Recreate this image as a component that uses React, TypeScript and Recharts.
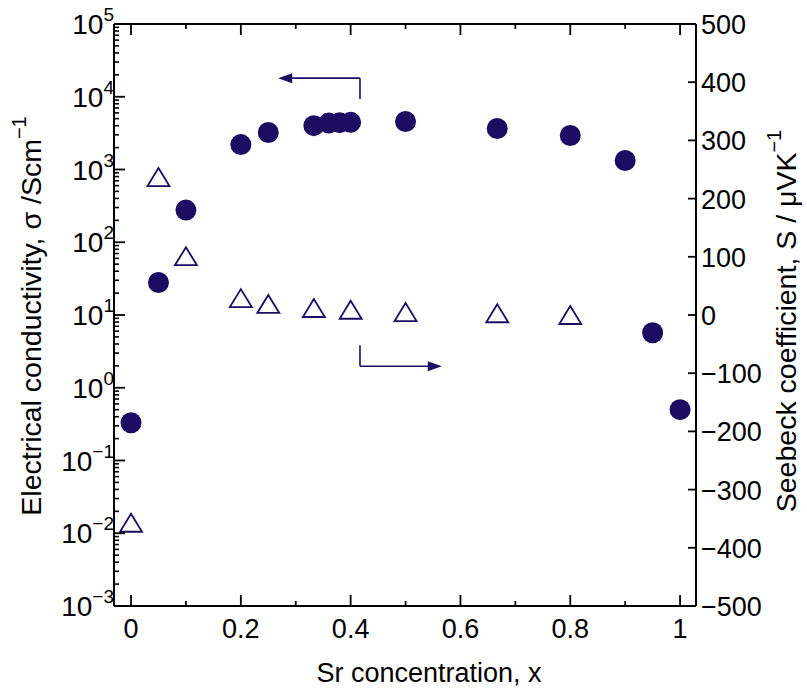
import React from 'react';
import { ScatterChart, Scatter, XAxis, YAxis, ReferenceLine } from 'recharts';

const NAVY = '#1c0c62';
const FONT = '"Liberation Sans", Arial, sans-serif';
const AXIS = { stroke: '#000', strokeWidth: 2 };

// conductivity (filled circles, left log axis)
const sigmaX = [0, 0.05, 0.1, 0.2, 0.25, 0.333, 0.36, 0.38, 0.4, 0.5, 0.667, 0.8, 0.9, 0.95, 1];
const sigmaValues = [0.33, 28, 277, 2200, 3230, 4000, 4350, 4400, 4450, 4570, 3660, 2930, 1330, 5.7, 0.5];

// Seebeck coefficient (open triangles, right axis)
const seebeckX = [0, 0.05, 0.1, 0.2, 0.25, 0.333, 0.4, 0.5, 0.667, 0.8];
const seebeckValues = [-357, 237, 101, 29, 19, 12, 9, 5, 3, 0];

const xMajorTicks = [0, 0.2, 0.4, 0.6, 0.8, 1];
const xMinorTicks = [0.1, 0.3, 0.5, 0.7, 0.9];
const xTickLabels = ['0', '0.2', '0.4', '0.6', '0.8', '1'];
const decadeExponents = [-3, -2, -1, 0, 1, 2, 3, 4, 5];
const minorMultipliers = [2, 3, 4, 5, 6, 7, 8, 9];
const seebeckTicks = [-500, -400, -300, -200, -100, 0, 100, 200, 300, 400, 500];

const sigmaData = sigmaX.map((x, i) => ({ x, sigma: sigmaValues[i] }));
const seebeckData = seebeckX.map((x, i) => ({ x, s: seebeckValues[i] }));

const logTicks: number[] = [];
decadeExponents.forEach((e) => {
  logTicks.push(Math.pow(10, e));
  if (e < 5) minorMultipliers.forEach((m) => logTicks.push(m * Math.pow(10, e)));
});
const xTicks = [...xMajorTicks, ...xMinorTicks].sort((a, b) => a - b);

const minus = (s: string) => s.replace('-', '\u2212');

function BottomTick({ x, y, payload }: any) {
  const idx = xMajorTicks.findIndex((t) => Math.abs(t - payload.value) < 1e-9);
  if (idx < 0) return <line x1={x} y1={y} x2={x} y2={y - 5} stroke="#000" strokeWidth={1.8} />;
  return (
    <g>
      <line x1={x} y1={y} x2={x} y2={y - 11} stroke="#000" strokeWidth={1.8} />
      <text x={x} y={y + 32} textAnchor="middle" fontSize={27} fontFamily={FONT} fill="#000">
        {xTickLabels[idx]}
      </text>
    </g>
  );
}

function TopTick({ x, y, payload }: any) {
  const major = xMajorTicks.some((t) => Math.abs(t - payload.value) < 1e-9);
  return <line x1={x} y1={y} x2={x} y2={y + (major ? 11 : 5)} stroke="#000" strokeWidth={1.8} />;
}

function LogTick({ x, y, payload }: any) {
  const lg = Math.log10(payload.value);
  const exp = Math.round(lg);
  if (Math.abs(lg - exp) > 1e-6) {
    return <line x1={x} y1={y} x2={x + 5} y2={y} stroke="#000" strokeWidth={1.6} />;
  }
  return (
    <g>
      <line x1={x} y1={y} x2={x + 11} y2={y} stroke="#000" strokeWidth={1.8} />
      <text x={x} y={y + 10} textAnchor="end" fontSize={28} fontFamily={FONT} fill="#000">
        <tspan>10</tspan>
        <tspan dy={-13} fontSize={19}>{minus(String(exp))}</tspan>
      </text>
    </g>
  );
}

function RightTick({ x, y, payload }: any) {
  return (
    <g>
      <line x1={x} y1={y} x2={x - 8} y2={y} stroke="#000" strokeWidth={1.8} />
      <text x={x + 5} y={y + 10} textAnchor="start" fontSize={27} fontFamily={FONT} fill="#000">
        {minus(String(payload.value))}
      </text>
    </g>
  );
}

function ArrowSeg({ x1, y1, x2, y2 }: any) {
  const dir = x2 > x1 ? 1 : -1;
  return (
    <g>
      <line x1={x1} y1={y1} x2={x2 - dir * 10} y2={y2} stroke={NAVY} strokeWidth={1.6} />
      <polygon
        points={`${x2},${y2} ${x2 - dir * 14},${y2 - 5} ${x2 - dir * 14},${y2 + 5}`}
        fill={NAVY}
      />
    </g>
  );
}

function PlainSeg({ x1, y1, x2, y2 }: any) {
  return <line x1={x1} y1={y1} x2={x2} y2={y2} stroke={NAVY} strokeWidth={1.6} />;
}

function Circle({ cx, cy }: any) {
  return <circle cx={cx} cy={cy} r={10.5} fill={NAVY} />;
}

function Triangle({ cx, cy }: any) {
  return (
    <polygon
      points={`${cx},${cy - 9} ${cx + 11},${cy + 9} ${cx - 11},${cy + 9}`}
      fill="#fff"
      stroke={NAVY}
      strokeWidth={1.8}
    />
  );
}

export default function App() {
  return (
    <div style={{ position: 'absolute', left: 0, top: 0, width: 807, height: 693, background: '#fff' }}>
      <ScatterChart width={807} height={693} margin={{ top: 20, right: 31, bottom: 37, left: 34 }}>
        <XAxis
          xAxisId="bottom"
          dataKey="x"
          type="number"
          domain={[-0.031, 1.029]}
          ticks={xTicks}
          allowDataOverflow
          height={50}
          tickSize={0}
          tickMargin={0}
          tickLine={false}
          axisLine={AXIS}
          tick={<BottomTick />}
          interval={0}
          label={{
            value: 'Sr concentration, x',
            content: () => (
              <text x={429} y={682} textAnchor="middle" fontSize={27} fontFamily={FONT} fill="#000">
                Sr concentration, x
              </text>
            ),
          }}
        />
        <XAxis
          xAxisId="top"
          orientation="top"
          dataKey="x"
          type="number"
          domain={[-0.031, 1.029]}
          ticks={xTicks}
          allowDataOverflow
          height={4}
          tickSize={0}
          tickMargin={0}
          tickLine={false}
          axisLine={AXIS}
          tick={<TopTick />}
          interval={0}
        />
        <YAxis
          yAxisId="left"
          dataKey="sigma"
          type="number"
          scale="log"
          domain={[1e-3, 1e5]}
          ticks={logTicks}
          allowDataOverflow
          width={80}
          tickSize={0}
          tickMargin={0}
          tickLine={false}
          axisLine={AXIS}
          tick={<LogTick />}
          interval={0}
          label={{
            value: 'sigma',
            content: () => (
              <text
                x={31}
                y={316}
                transform="rotate(-90 31 316)"
                textAnchor="middle"
                dominantBaseline="central"
                fontSize={28.5}
                fontFamily={FONT}
                fill="#000"
              >
                Electrical conductivity, σ /Scm
                <tspan dy={-12} fontSize={20}>{'\u22121'}</tspan>
              </text>
            ),
          }}
        />
        <YAxis
          yAxisId="right"
          orientation="right"
          dataKey="s"
          type="number"
          domain={[-500, 500]}
          ticks={seebeckTicks}
          allowDataOverflow
          width={80}
          tickSize={0}
          tickMargin={0}
          tickLine={false}
          axisLine={AXIS}
          tick={<RightTick />}
          interval={0}
          label={{
            value: 'S',
            content: () => (
              <text
                x={786}
                y={321}
                transform="rotate(-90 786 321)"
                textAnchor="middle"
                dominantBaseline="central"
                fontSize={28.5}
                fontFamily={FONT}
                fill="#000"
              >
                Seebeck coefficient, S / μVK
                <tspan dy={-12} fontSize={20}>{'\u22121'}</tspan>
              </text>
            ),
          }}
        />
        <ReferenceLine
          xAxisId="bottom"
          yAxisId="right"
          segment={[{ x: 0.417, y: 371 }, { x: 0.417, y: 407 }]}
          shape={<PlainSeg />}
        />
        <ReferenceLine
          xAxisId="bottom"
          yAxisId="right"
          segment={[{ x: 0.417, y: 407 }, { x: 0.268, y: 407 }]}
          shape={<ArrowSeg />}
        />
        <ReferenceLine
          xAxisId="bottom"
          yAxisId="right"
          segment={[{ x: 0.417, y: -52 }, { x: 0.417, y: -88 }]}
          shape={<PlainSeg />}
        />
        <ReferenceLine
          xAxisId="bottom"
          yAxisId="right"
          segment={[{ x: 0.417, y: -88 }, { x: 0.566, y: -88 }]}
          shape={<ArrowSeg />}
        />
        <Scatter
          data={seebeckData}
          xAxisId="bottom"
          yAxisId="right"
          dataKey="s"
          shape={<Triangle />}
          isAnimationActive={false}
        />
        <Scatter
          data={sigmaData}
          xAxisId="bottom"
          yAxisId="left"
          dataKey="sigma"
          shape={<Circle />}
          isAnimationActive={false}
        />
      </ScatterChart>
    </div>
  );
}
